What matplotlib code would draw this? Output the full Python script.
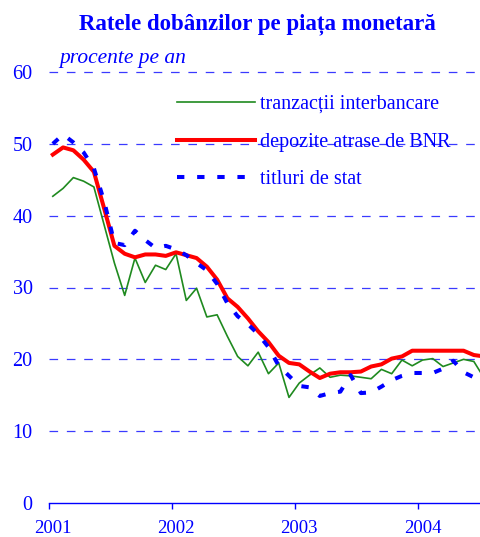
import numpy as np
import matplotlib
matplotlib.use("Agg")
import matplotlib.pyplot as plt

plt.rcParams['font.family'] = ['Liberation Serif', 'DejaVu Serif']
plt.rcParams['lines.scale_dashes'] = False

# ---- data (monthly, Jan 2001 .. Jul 2004) ----
interbancare = [42.7, 43.8, 45.3, 44.8, 44.0, 38.7, 33.4, 28.9, 34.1, 30.7, 33.1, 32.5,
                34.7, 28.2, 29.9, 25.9, 26.2, 23.2, 20.4, 19.1, 21.0, 18.0, 19.5, 14.7,
                16.7, 17.8, 18.8, 17.5, 17.8, 17.7, 17.5, 17.3, 18.6, 18.0, 19.9, 19.1,
                19.9, 20.1, 19.0, 19.5, 20.0, 19.7, 17.4]
depozite_bnr = [48.5, 49.5, 49.1, 47.8, 46.1, 41.0, 35.8, 34.7, 34.2, 34.6, 34.6, 34.4,
                34.9, 34.5, 34.1, 32.9, 31.1, 28.5, 27.3, 25.7, 23.9, 22.4, 20.5, 19.5,
                19.3, 18.3, 17.4, 18.0, 18.2, 18.2, 18.3, 19.0, 19.3, 20.1, 20.4, 21.2,
                21.2, 21.2, 21.2, 21.2, 21.2, 20.6, 20.4]
titluri_stat = [50.0, 51.3, 50.2, 48.8, 46.6, 42.0, 36.2, 35.9, 37.9, 36.6, 35.5, 35.8,
                35.3, 34.5, 33.4, 32.4, 30.5, 27.8, 26.0, 24.9, 23.5, 21.7, 19.1, 17.7,
                16.3, 16.1, 14.9, 15.3, 15.5, 17.8, 15.3, 15.4, 16.2, 17.1, 17.7, 18.1,
                18.1, 18.1, 18.7, 19.8, 18.2, 17.5, 17.3]
years = [2001, 2002, 2003, 2004]
year_labels = ['2001', '2002', '2003', '2004']
y_ticks = [0, 10, 20, 30, 40, 50, 60]
series_labels = ['tranzacții interbancare', 'depozite atrase de BNR', 'titluri de stat']

months = np.arange(len(interbancare))
x = years[0] + (months + 0.4) / 12.0

BLUE = '#0000FF'
fig = plt.figure(figsize=(4.8, 5.37), dpi=100)
W, H = 480.0, 537.0
ax = fig.add_axes([48.7 / W, 34 / H, (W - 48.7) / W, 431 / H])
ax.set_xlim(2001, 2004.5)
ax.set_ylim(0, 60)

for s in ['left', 'right', 'top']:
    ax.spines[s].set_visible(False)
ax.spines['bottom'].set_color(BLUE)
ax.spines['bottom'].set_linewidth(1.0)
ax.spines['bottom'].set_zorder(5)

for yv in y_ticks[1:]:
    ax.axhline(yv, 0, 1, color='#3a3aff', lw=0.9, dashes=(6.2, 6.3), clip_on=False, zorder=1)

ax.plot(x, interbancare, color='#1f8a1f', lw=1.2, label=series_labels[0], zorder=2)
ax.plot(x, depozite_bnr, color='#FF0000', lw=2.9, label=series_labels[1], zorder=3)
ax.plot(x, titluri_stat, color=BLUE, lw=2.9, dashes=(5.3, 9.2), label=series_labels[2], zorder=4)

ax.set_yticks(y_ticks)
ax.set_yticklabels([str(v) for v in y_ticks])
ax.tick_params(axis='y', length=0, pad=11.5, labelcolor=BLUE, labelsize=14.5)

ax.set_xticks(years)
ax.set_xticklabels([])
ax.tick_params(axis='x', which='major', length=4.3, width=1, color=BLUE, direction='out')
ax.set_xticks([yr + 0.4 / 12 for yr in years], minor=True)
ax.set_xticklabels(year_labels, minor=True)
ax.tick_params(axis='x', which='minor', length=0, pad=12.5, labelcolor=BLUE, labelsize=13.5)

fig.text(257.5 / W, 1 - 24 / H, 'Ratele dobânzilor pe piața monetară', ha='center', va='center',
         fontsize=16.5, fontweight='bold', color=BLUE)
fig.text(59.3 / W, 1 - 63.3 / H, 'procente pe an', ha='left', va='baseline',
         fontsize=15.5, fontstyle='italic', color=BLUE)

leg = ax.legend(loc='center left', bbox_to_anchor=(176.7 / W, 1 - 142 / H),
                bbox_transform=fig.transFigure, frameon=False, fontsize=14.5,
                handlelength=3.9, handletextpad=0.25, labelspacing=0.93,
                borderpad=0, borderaxespad=0, labelcolor=BLUE)

fig.savefig('out.png', dpi=100)
